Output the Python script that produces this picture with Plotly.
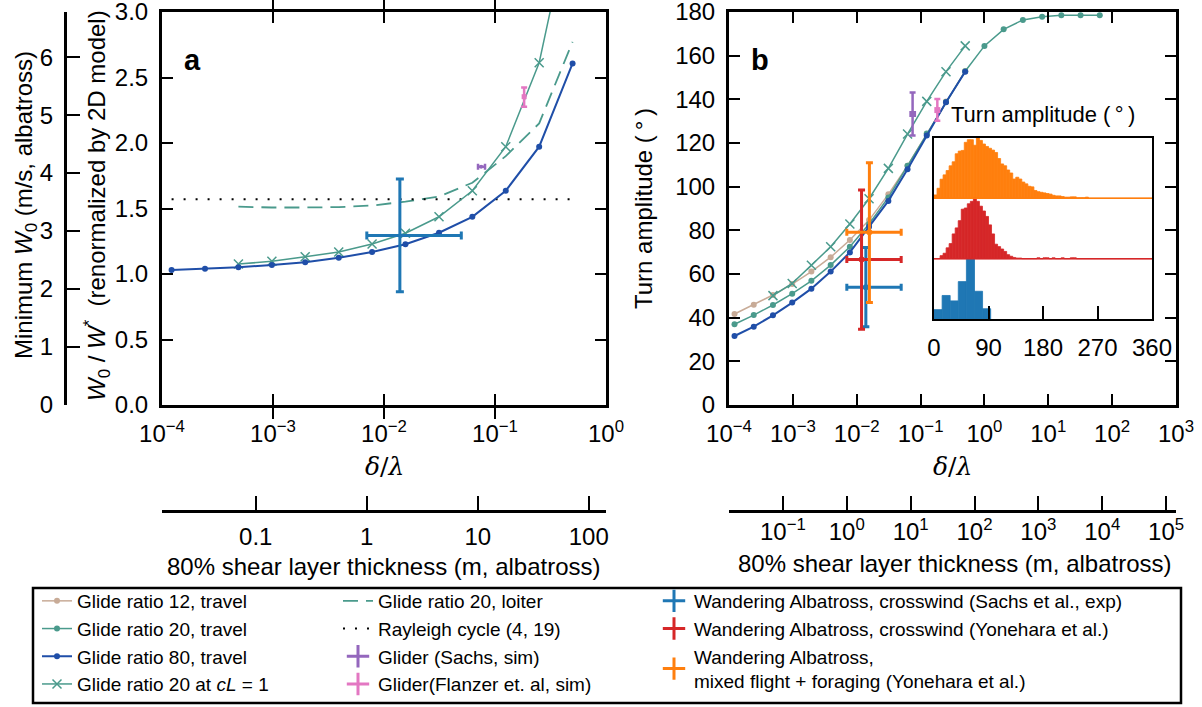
import math
import plotly.graph_objects as go

FIG_W, FIG_H = 1202, 707
FONT = "Liberation Sans"
MATH_FONT = "DejaVu Serif"

# ---------------------------------------------------------------- data
# delta / lambda sample points (doubling grid)
shear_ratio = [1.22e-4, 2.44e-4, 4.88e-4, 9.77e-4, 1.95e-3, 3.91e-3, 7.81e-3,
               0.0156, 0.0313, 0.0625, 0.125, 0.25, 0.5]
shear_ratio_ext = [1.22e-4, 2.44e-4, 4.88e-4, 9.77e-4, 1.95e-3, 3.91e-3, 7.81e-3,
                   0.0156, 0.0313, 0.0625, 0.125, 0.25, 0.5,
                   1.0, 2.0, 4.0, 8.0, 16.0, 32.0, 64.0]
shear_ratio_cl = [4.88e-4, 9.77e-4, 1.95e-3, 3.91e-3, 7.81e-3,
                  0.0156, 0.0313, 0.0625, 0.125, 0.25, 0.5]

# panel a: minimum wind strength W0 / W*
w0_glide80 = [1.031, 1.040, 1.051, 1.069, 1.089, 1.124, 1.168, 1.227, 1.315,
              1.437, 1.636, 1.972, 2.608]
w0_glide20_cl1 = [1.076, 1.097, 1.132, 1.168, 1.229, 1.311, 1.437, 1.636, 1.972,
                  2.613, 3.80]
w0_glide20_loiter = [1.514, 1.508, 1.508, 1.511, 1.523, 1.553, 1.592, 1.697, 1.900,
                     2.150, 2.773]
rayleigh_ratio = [1.22e-4, 0.5]
rayleigh_w0 = [1.571, 1.571]

# panel b: turn amplitude (degrees)
turn_glide12 = [41.7, 45.9, 50.4, 55.4, 61.1, 67.7, 75.6, 84.7, 96.5, 109.6,
                124.1, 139.0, 153.0]
turn_glide20 = [37.0, 41.2, 45.8, 51.0, 56.9, 64.1, 72.5, 82.9, 95.1, 109.6,
                124.4, 138.8, 152.9, 164.5, 172.1, 176.4, 177.9, 178.5, 178.5, 178.5]
turn_glide80 = [31.6, 35.9, 41.1, 46.9, 53.3, 61.1, 69.9, 81.7, 93.5, 108.0,
                123.4, 138.7, 152.7]
turn_glide20_cl1 = [50.1, 55.7, 64.0, 72.5, 82.9, 94.5, 108.4, 124.1, 139.1,
                    152.7, 164.5]

# observations: centre, low, high
glider_sachs = dict(x=0.075, x_lo=0.0703, x_hi=0.0813,
                    w0=1.819, turn=133.3, turn_lo=123.4, turn_hi=143.2)
glider_flanzer = dict(x=0.183, w0=2.354, w0_lo=2.277, w0_hi=2.425,
                      turn=135.1, turn_lo=130.2, turn_hi=140.2)
albatross_sachs = dict(x=0.0139, x_lo=0.0070, x_hi=0.0497,
                       w0=1.295, w0_lo=0.865, w0_hi=1.725,
                       turn=53.9, turn_lo=35.9, turn_hi=72.1)
albatross_yonehara_cross = dict(x=0.0119, x_lo=0.0070, x_hi=0.0497,
                                turn=66.6, turn_lo=34.7, turn_hi=98.5)
albatross_yonehara_mixed = dict(x=0.0158, x_lo=0.0070, x_hi=0.0497,
                                turn=79.1, turn_lo=47.0, turn_hi=111.0)

# turn-amplitude histograms (peak-normalised), 5 degree bins over 0..360
hist_edges = [5 * i for i in range(73)]
hist_mixed = [0.056, 0.167, 0.317, 0.389, 0.461, 0.539, 0.606, 0.739, 0.783, 0.794,
              0.928, 0.972, 0.972, 0.880, 1.000, 0.960, 0.900, 0.860, 0.830, 0.800,
              0.760, 0.660, 0.570, 0.540, 0.470, 0.420, 0.320, 0.350, 0.320, 0.270,
              0.240, 0.200, 0.190, 0.130, 0.110, 0.100, 0.090, 0.080, 0.070, 0.050,
              0.040, 0.040, 0.030, 0.020, 0.020, 0.025, 0.025, 0.010, 0.010, 0.010,
              0.020, 0.000, 0.000, 0.000, 0.000, 0.000, 0.000, 0.000, 0.000, 0.000,
              0.000, 0.000, 0.000, 0.000, 0.000, 0.000, 0.000, 0.000, 0.000, 0.000,
              0.000, 0.000]
hist_cross = [0.000, 0.000, 0.050, 0.090, 0.180, 0.250, 0.410, 0.510, 0.630, 0.820,
              0.840, 0.910, 0.950, 1.000, 0.950, 0.870, 0.790, 0.700, 0.560, 0.410,
              0.240, 0.200, 0.160, 0.120, 0.066, 0.040, 0.020, 0.010, 0.010, 0.000,
              0.000, 0.000, 0.000, 0.000, 0.015, 0.000, 0.015, 0.015, 0.000, 0.015,
              0.000, 0.000, 0.015, 0.000, 0.000, 0.015, 0.015, 0.000, 0.000, 0.000,
              0.000, 0.000, 0.000, 0.000, 0.000, 0.000, 0.000, 0.000, 0.000, 0.000,
              0.000, 0.000, 0.000, 0.000, 0.000, 0.000, 0.000, 0.000, 0.000, 0.000,
              0.000, 0.000]
hist_sachs_edges = [0.0, 13.4, 26.7, 40.1, 53.5, 66.9, 80.2, 93.6]
hist_sachs = [0.155, 0.390, 0.300, 0.620, 1.000, 0.460, 0.170]

# unit conversions for the secondary scales
LAYER_M_PER_RATIO = 143.0   # 80% shear-layer thickness (m) per unit delta/lambda
W0_MS_PER_UNIT = 2.259      # albatross W0 (m/s) per unit W0/W*

# ---------------------------------------------------------------- style
TAN = "#c8ab97"
TEAL = "#4a9a8c"
NAVY = "#1f4ea8"
C_BLUE = "#1f77b4"
C_RED = "#d62728"
C_ORANGE = "#ff7f0e"
C_PURPLE = "#9467bd"
C_PINK = "#e377c2"


def hx(px):
    return px / FIG_W


def vy(py):
    return 1 - py / FIG_H


def pow_label(k):
    return "10<sup>" + ("\u2212" if k < 0 else "") + str(abs(k)) + "</sup>"


def err(center, lo, hi):
    return dict(type="data", symmetric=False, array=[hi - center],
                arrayminus=[center - lo])


fig = go.Figure()

# ---------------------------------------------------------------- panel a
fig.add_trace(go.Scatter(
    x=shear_ratio_cl, y=w0_glide20_loiter, mode="lines", name="Glide ratio 20, loiter",
    line=dict(color=TEAL, width=1.8, dash="15px,8px"), legend="legend2",
    xaxis="x", yaxis="y"))
fig.add_trace(go.Scatter(
    x=rayleigh_ratio, y=rayleigh_w0, mode="lines", name="Rayleigh cycle (4, 19)",
    line=dict(color="black", width=2, dash="2px,10px"), legend="legend2",
    xaxis="x", yaxis="y"))
fig.add_trace(go.Scatter(
    x=shear_ratio_cl, y=w0_glide20_cl1, mode="lines+markers", showlegend=False,
    line=dict(color=TEAL, width=1.5),
    marker=dict(symbol="x-thin", size=9, line=dict(color=TEAL, width=1.5)),
    xaxis="x", yaxis="y"))
fig.add_trace(go.Scatter(
    x=shear_ratio, y=w0_glide80, mode="lines+markers", showlegend=False,
    line=dict(color=NAVY, width=2), marker=dict(color=NAVY, size=6),
    xaxis="x", yaxis="y"))
fig.add_trace(go.Scatter(
    x=[glider_sachs["x"]], y=[glider_sachs["w0"]], mode="markers", showlegend=False,
    marker=dict(color=C_PURPLE, size=4),
    error_x=dict(err(glider_sachs["x"], glider_sachs["x_lo"], glider_sachs["x_hi"]),
                 color=C_PURPLE, thickness=2.5, width=3),
    xaxis="x", yaxis="y"))
fig.add_trace(go.Scatter(
    x=[glider_flanzer["x"]], y=[glider_flanzer["w0"]], mode="markers", showlegend=False,
    marker=dict(color=C_PINK, size=5, symbol="square"),
    error_y=dict(err(glider_flanzer["w0"], glider_flanzer["w0_lo"], glider_flanzer["w0_hi"]),
                 color=C_PINK, thickness=2.5, width=3),
    xaxis="x", yaxis="y"))
fig.add_trace(go.Scatter(
    x=[albatross_sachs["x"]], y=[albatross_sachs["w0"]], mode="markers", showlegend=False,
    marker=dict(color=C_BLUE, size=4),
    error_x=dict(err(albatross_sachs["x"], albatross_sachs["x_lo"], albatross_sachs["x_hi"]),
                 color=C_BLUE, thickness=3, width=4),
    error_y=dict(err(albatross_sachs["w0"], albatross_sachs["w0_lo"], albatross_sachs["w0_hi"]),
                 color=C_BLUE, thickness=3, width=4),
    xaxis="x", yaxis="y"))

# ---------------------------------------------------------------- panel b
fig.add_trace(go.Scatter(
    x=shear_ratio, y=turn_glide12, mode="lines+markers", name="Glide ratio 12, travel",
    line=dict(color=TAN, width=1.5), marker=dict(color=TAN, size=6),
    legend="legend", xaxis="x2", yaxis="y2"))
fig.add_trace(go.Scatter(
    x=shear_ratio_ext, y=turn_glide20, mode="lines+markers", name="Glide ratio 20, travel",
    line=dict(color=TEAL, width=1.5), marker=dict(color=TEAL, size=6),
    legend="legend", xaxis="x2", yaxis="y2"))
fig.add_trace(go.Scatter(
    x=shear_ratio, y=turn_glide80, mode="lines+markers", name="Glide ratio 80, travel",
    line=dict(color=NAVY, width=2), marker=dict(color=NAVY, size=6),
    legend="legend", xaxis="x2", yaxis="y2"))
fig.add_trace(go.Scatter(
    x=shear_ratio_cl, y=turn_glide20_cl1, mode="lines+markers",
    name="Glide ratio 20 at <i>cL</i> = 1",
    line=dict(color=TEAL, width=1.5),
    marker=dict(symbol="x-thin", size=9, line=dict(color=TEAL, width=1.5)),
    legend="legend", xaxis="x2", yaxis="y2"))

for obs, color, thick, cap in [
        (glider_sachs, C_PURPLE, 2.5, 3),
        (glider_flanzer, C_PINK, 2.5, 3),
        (albatross_sachs, C_BLUE, 3, 3.5),
        (albatross_yonehara_cross, C_RED, 3, 3.5),
        (albatross_yonehara_mixed, C_ORANGE, 3, 3.5)]:
    ex = None
    if "x_lo" in obs:
        ex = dict(err(obs["x"], obs["x_lo"], obs["x_hi"]), color=color,
                  thickness=thick, width=cap)
    fig.add_trace(go.Scatter(
        x=[obs["x"]], y=[obs["turn"]], mode="markers", showlegend=False,
        marker=dict(color=color, size=6,
                    symbol="square" if color in (C_PURPLE, C_PINK) else "circle"),
        error_x=ex,
        error_y=dict(err(obs["turn"], obs["turn_lo"], obs["turn_hi"]), color=color,
                     thickness=thick, width=cap),
        xaxis="x2", yaxis="y2"))

# legend glyphs for the observation series
for name, color, leg in [
        ("Glider (Sachs, sim)", C_PURPLE, "legend2"),
        ("Glider(Flanzer et. al, sim)", C_PINK, "legend2"),
        ("Wandering Albatross, crosswind (Sachs et al., exp)", C_BLUE, "legend3"),
        ("Wandering Albatross, crosswind (Yonehara et al.)", C_RED, "legend3"),
        ("Wandering Albatross,<br>mixed flight + foraging (Yonehara et al.)", C_ORANGE, "legend3")]:
    fig.add_trace(go.Scatter(
        x=[None], y=[None], mode="markers", name=name, legend=leg,
        marker=dict(symbol="cross-thin", size=16, line=dict(color=color, width=3)),
        xaxis="x2", yaxis="y2"))

# ---------------------------------------------------------------- inset histograms
for edges, heights, base, color in [
        (hist_edges, hist_mixed, 2, C_ORANGE),
        (hist_edges, hist_cross, 1, C_RED),
        (hist_sachs_edges, hist_sachs, 0, C_BLUE)]:
    centers = [(a + b) / 2 for a, b in zip(edges[:-1], edges[1:])]
    widths = [b - a for a, b in zip(edges[:-1], edges[1:])]
    fig.add_trace(go.Bar(
        x=centers, y=heights, width=widths, base=base, showlegend=False,
        marker=dict(color=color, line=dict(width=0.8, color=color)),
        xaxis="x3", yaxis="y3"))
    if base > 0:
        fig.add_trace(go.Scatter(
            x=[edges[0], edges[-1]], y=[base, base], mode="lines", showlegend=False,
            line=dict(color=color, width=1.5), xaxis="x3", yaxis="y3"))

# anchors for the secondary scales
fig.add_trace(go.Scatter(x=[None], y=[None], showlegend=False, xaxis="x4", yaxis="y5"))
fig.add_trace(go.Scatter(x=[None], y=[None], showlegend=False, xaxis="x5", yaxis="y6"))
fig.add_trace(go.Scatter(x=[None], y=[None], showlegend=False, xaxis="x", yaxis="y4"))

# ---------------------------------------------------------------- axes
tick_font = dict(family=FONT, size=24, color="black")
frame = dict(showline=True, linewidth=3, linecolor="black", mirror="allticks",
             ticks="inside", ticklen=11, tickwidth=2, tickcolor="black",
             showgrid=False, zeroline=False, tickfont=tick_font, automargin=False,
             ticklabeloverflow="allow")
scale_line = dict(showline=True, linewidth=3, linecolor="black", ticks="inside",
                  ticklen=14, tickwidth=1.5, tickcolor="black", showgrid=False,
                  zeroline=False, tickfont=tick_font, automargin=False,
                  ticklabeloverflow="allow")
hidden = dict(visible=False, showgrid=False, zeroline=False, automargin=False)

PLOT_TOP, PLOT_BOTTOM = 12, 405
SCALE_LINE = 510
y_dom = [vy(PLOT_BOTTOM), vy(PLOT_TOP)]
scale_dom = [vy(SCALE_LINE), vy(SCALE_LINE - 16)]
a_dom = [hx(162), hx(606)]
b_dom = [hx(729), hx(1176)]
layer_shift = math.log10(LAYER_M_PER_RATIO)

a_dec = [-4, -3, -2, -1, 0]
b_dec = [-4, -3, -2, -1, 0, 1, 2, 3]
b_layer_dec = [-1, 0, 1, 2, 3, 4, 5]
a_yticks = [0.0, 0.5, 1.0, 1.5, 2.0, 2.5, 3.0]
b_yticks = [0, 20, 40, 60, 80, 100, 120, 140, 160, 180]
w0_ms_ticks = [0, 1, 2, 3, 4, 5, 6]

layout_axes = dict(
    xaxis=dict(frame, type="log", range=[-4, 0], domain=a_dom, anchor="y",
               tickmode="array", tickvals=[10.0 ** k for k in a_dec],
               ticktext=[pow_label(k) for k in a_dec], ticklabelstandoff=5),
    yaxis=dict(frame, range=[0, 3.0005], domain=y_dom, anchor="x",
               tickmode="array", tickvals=a_yticks,
               ticktext=["%.1f" % v for v in a_yticks], ticklabelstandoff=6),
    xaxis2=dict(frame, type="log", range=[-4, 3], domain=b_dom, anchor="y2",
                tickmode="array", tickvals=[10.0 ** k for k in b_dec],
                ticktext=[pow_label(k) for k in b_dec], ticklabelstandoff=5),
    yaxis2=dict(frame, range=[0, 180.03], domain=y_dom, anchor="x2",
                tickmode="array", tickvals=b_yticks, ticklabelstandoff=6),
    xaxis3=dict(range=[0, 360], domain=[hx(934), hx(1152)], anchor="y3",
                showline=True, linewidth=1.5, linecolor="black", mirror=True,
                ticks="inside", ticklen=13, tickwidth=2, tickcolor="black",
                tickmode="array", tickvals=[0, 90, 180, 270, 360], showgrid=False,
                zeroline=False, tickfont=tick_font, ticklabelstandoff=6,
                automargin=False, ticklabeloverflow="allow"),
    yaxis3=dict(range=[0, 3], domain=[vy(319), vy(138)], anchor="x3",
                showline=True, linewidth=1.5, linecolor="black", mirror=True,
                ticks="", showticklabels=False, showgrid=False, zeroline=False,
                automargin=False),
    xaxis4=dict(scale_line, type="log", anchor="y5", domain=a_dom,
                range=[-4 + layer_shift, layer_shift],
                tickmode="array", tickvals=[0.1, 1, 10, 100],
                ticktext=["0.1", "1", "10", "100"], ticklabelstandoff=3),
    yaxis5=dict(hidden, domain=scale_dom, anchor="x4", range=[0, 1]),
    xaxis5=dict(scale_line, type="log", anchor="y6", domain=b_dom,
                range=[-4 + layer_shift, 3 + layer_shift],
                tickmode="array", tickvals=[10.0 ** k for k in b_layer_dec],
                ticktext=[pow_label(k) for k in b_layer_dec], ticklabelstandoff=-2),
    yaxis6=dict(hidden, domain=scale_dom, anchor="x5", range=[0, 1]),
    yaxis4=dict(overlaying="y", anchor="free", position=hx(65), side="left",
                range=[0, 3.0005 * W0_MS_PER_UNIT], showline=True, linewidth=3,
                linecolor="black", ticks="inside", ticklen=13, tickwidth=2,
                tickcolor="black", tickmode="array", tickvals=w0_ms_ticks,
                showgrid=False, zeroline=False, tickfont=tick_font,
                ticklabelstandoff=6, automargin=False, ticklabeloverflow="allow"),
)

# ---------------------------------------------------------------- text
def note(text, px, py, size=24, family=FONT, angle=0):
    return dict(text=text, x=hx(px), y=vy(py), xref="paper", yref="paper",
                showarrow=False, textangle=angle, xanchor="center", yanchor="middle",
                font=dict(family=family, size=size, color="black"))


shear_title = "80% shear layer thickness (m, albatross)"
annotations = [
    note("<i>\u03b4</i>/<i>\u03bb</i>", 384, 466, size=25, family=MATH_FONT),
    note("<i>\u03b4</i>/<i>\u03bb</i>", 952, 466, size=25, family=MATH_FONT),
    note(shear_title, 384, 566),
    note(shear_title, 955, 563),
    note("Minimum <i>W</i><sub>0</sub> (m/s, albatross)", 25, 205, angle=-90),
    note("<i>W</i><sub>0</sub> / <i>W</i><sup>*</sup>  (renormalized by 2D model)",
         97, 206, angle=-90),
    note("Turn amplitude (\u2009\u00b0\u2009)", 643, 209, angle=-90),
    note("Turn amplitude (\u2009\u00b0\u2009)", 1043, 114, size=22),
    note("<b>a</b>", 192, 60, size=29),
    note("<b>b</b>", 760, 60, size=29),
]

legend_style = dict(xanchor="left", yanchor="top", y=vy(582), bgcolor="rgba(0,0,0,0)",
                    borderwidth=0, font=dict(family=FONT, size=19, color="black"))

fig.update_layout(
    template="none",
    width=FIG_W, height=FIG_H,
    margin=dict(l=0, r=0, t=0, b=0, pad=0, autoexpand=False),
    paper_bgcolor="white", plot_bgcolor="white",
    font=dict(family=FONT, color="black"),
    barmode="overlay",
    showlegend=True,
    legend=dict(legend_style, x=hx(37)),
    legend2=dict(legend_style, x=hx(338)),
    legend3=dict(legend_style, x=hx(654)),
    annotations=annotations,
    shapes=[dict(type="rect", xref="paper", yref="paper",
                 x0=hx(33), x1=hx(1181), y0=vy(703), y1=vy(588),
                 line=dict(color="black", width=2.5))],
    **layout_axes,
)

fig.write_html("out.html")
